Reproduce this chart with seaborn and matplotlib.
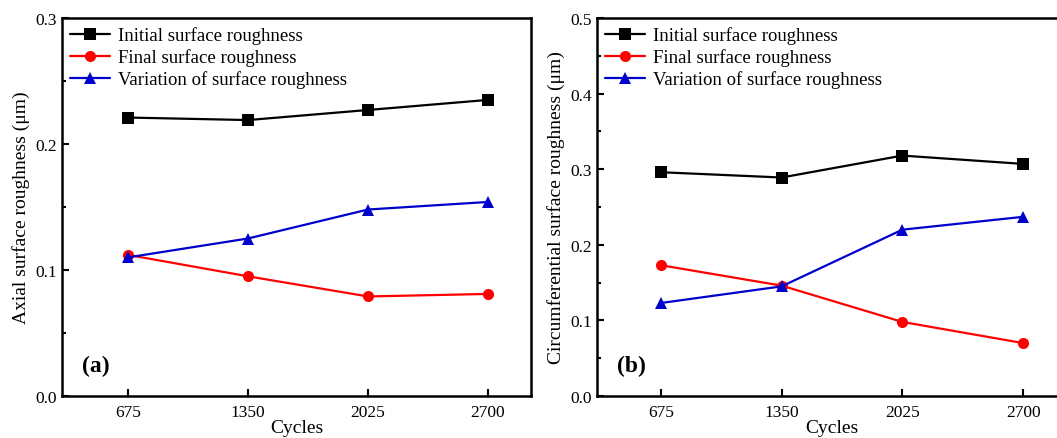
import matplotlib.pyplot as plt
import pandas as pd
import seaborn as sns
from matplotlib.ticker import MultipleLocator

cycles = [675, 1350, 2025, 2700]

# (a) axial
axial_initial = [0.221, 0.219, 0.227, 0.235]
axial_final = [0.112, 0.095, 0.079, 0.081]
axial_variation = [0.110, 0.125, 0.148, 0.154]

# (b) circumferential
circ_initial = [0.296, 0.289, 0.318, 0.307]
circ_final = [0.173, 0.146, 0.098, 0.070]
circ_variation = [0.123, 0.145, 0.220, 0.237]

series_names = [
    "Initial surface roughness",
    "Final surface roughness",
    "Variation of surface roughness",
]
colors = ["black", "red", "#0000cc"]
markers = ["s", "o", "^"]


def make_df(initial, final, variation):
    rows = []
    for name, vals in zip(series_names, [initial, final, variation]):
        for c, v in zip(cycles, vals):
            rows.append({"Cycles": c, "value": v, "series": name})
    return pd.DataFrame(rows)


sns.set_style("ticks")
plt.rcParams["font.family"] = ["Liberation Serif", "DejaVu Serif"]
plt.rcParams["axes.edgecolor"] = "black"
plt.rcParams["xtick.color"] = "black"
plt.rcParams["ytick.color"] = "black"
plt.rcParams["text.color"] = "black"
plt.rcParams["axes.labelcolor"] = "black"

fig = plt.figure(figsize=(10.57, 4.39), dpi=100)
ax_a = fig.add_axes([62 / 1057, 42 / 439, 469 / 1057, 378 / 439])
ax_b = fig.add_axes([597 / 1057, 42 / 439, 469 / 1057, 378 / 439])

panels = [
    (ax_a, make_df(axial_initial, axial_final, axial_variation),
     "Axial surface roughness (μm)", 0.3, "(a)", (304, 2942)),
    (ax_b, make_df(circ_initial, circ_final, circ_variation),
     "Circumferential surface roughness (μm)", 0.5, "(b)", (318, 2940)),
]

for ax, df, ylabel, ymax, tag, xlim in panels:
    sns.lineplot(
        data=df, x="Cycles", y="value", hue="series", style="series",
        palette=colors, markers=markers, dashes=False, ax=ax,
        linewidth=1.6, markersize=8, markeredgewidth=0,
    )
    ax.set_xlim(*xlim)
    ax.set_ylim(0, ymax)
    ax.set_xticks(cycles)
    ax.yaxis.set_major_locator(MultipleLocator(0.1))
    ax.yaxis.set_minor_locator(MultipleLocator(0.05))
    ax.tick_params(axis="both", which="both", direction="in", labelsize=12.5,
                   top=False, right=False, width=1.5, colors="black")
    ax.tick_params(which="major", length=5)
    ax.tick_params(which="minor", length=3)
    ax.tick_params(axis="x", pad=6)
    ax.xaxis.set_minor_locator(plt.NullLocator())
    ax.set_xlabel("Cycles", fontsize=14, labelpad=-1)
    ax.set_ylabel(ylabel, fontsize=14, labelpad=4)
    for sp in ax.spines.values():
        sp.set_linewidth(1.8)
        sp.set_color("black")
        sp.set_visible(True)
    ax.legend(loc="upper left", frameon=False, fontsize=13.5, handlelength=2.1,
              labelspacing=0.22, borderaxespad=0.15, handletextpad=0.45,
              borderpad=0.3)
    ax.text(0.042, 0.065, tag, transform=ax.transAxes, fontsize=17,
            fontweight="bold")

fig.savefig("out.png", dpi=100)
